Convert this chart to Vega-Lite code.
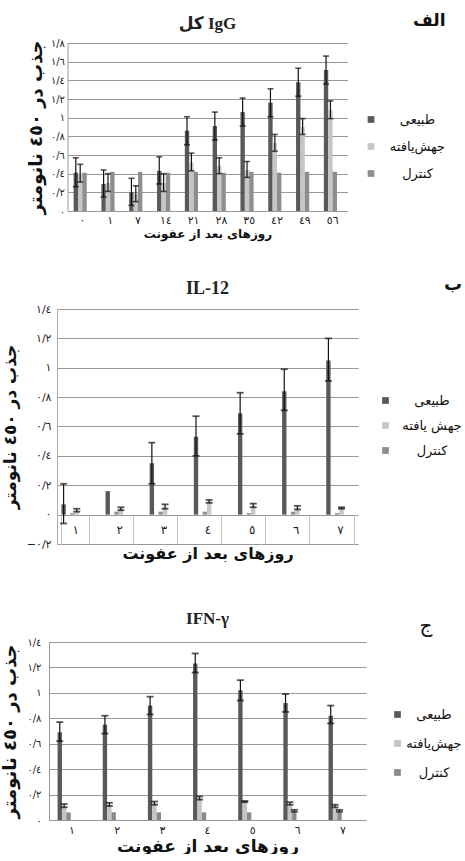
{
  "$schema": "https://vega.github.io/schema/vega-lite/v6.json",
  "background": "white",
  "padding": {"left": 0, "top": 13, "right": 0, "bottom": 0},
  "datasets": {
    "igg": [
      {"day": 0, "group": "طبیعی", "val": 0.41, "lo": 0.26, "hi": 0.57},
      {"day": 0, "group": "جهش\u200cیافته", "val": 0.40, "lo": 0.31, "hi": 0.50},
      {"day": 0, "group": "کنترل", "val": 0.41},
      {"day": 1, "group": "طبیعی", "val": 0.29, "lo": 0.15, "hi": 0.44},
      {"day": 1, "group": "جهش\u200cیافته", "val": 0.30, "lo": 0.21, "hi": 0.40},
      {"day": 1, "group": "کنترل", "val": 0.42},
      {"day": 7, "group": "طبیعی", "val": 0.20, "lo": 0.06, "hi": 0.35},
      {"day": 7, "group": "جهش\u200cیافته", "val": 0.18, "lo": 0.10, "hi": 0.27},
      {"day": 7, "group": "کنترل", "val": 0.42},
      {"day": 14, "group": "طبیعی", "val": 0.43, "lo": 0.29, "hi": 0.58},
      {"day": 14, "group": "جهش\u200cیافته", "val": 0.30, "lo": 0.21, "hi": 0.40},
      {"day": 14, "group": "کنترل", "val": 0.41},
      {"day": 21, "group": "طبیعی", "val": 0.86, "lo": 0.71, "hi": 1.01},
      {"day": 21, "group": "جهش\u200cیافته", "val": 0.52, "lo": 0.43, "hi": 0.62},
      {"day": 21, "group": "کنترل", "val": 0.42},
      {"day": 28, "group": "طبیعی", "val": 0.91, "lo": 0.76, "hi": 1.06},
      {"day": 28, "group": "جهش\u200cیافته", "val": 0.48, "lo": 0.40, "hi": 0.57},
      {"day": 28, "group": "کنترل", "val": 0.41},
      {"day": 35, "group": "طبیعی", "val": 1.06, "lo": 0.91, "hi": 1.21},
      {"day": 35, "group": "جهش\u200cیافته", "val": 0.44, "lo": 0.36, "hi": 0.53},
      {"day": 35, "group": "کنترل", "val": 0.42},
      {"day": 42, "group": "طبیعی", "val": 1.16, "lo": 1.01, "hi": 1.31},
      {"day": 42, "group": "جهش\u200cیافته", "val": 0.73, "lo": 0.64, "hi": 0.82},
      {"day": 42, "group": "کنترل", "val": 0.41},
      {"day": 49, "group": "طبیعی", "val": 1.38, "lo": 1.23, "hi": 1.53},
      {"day": 49, "group": "جهش\u200cیافته", "val": 0.90, "lo": 0.82, "hi": 0.99},
      {"day": 49, "group": "کنترل", "val": 0.42},
      {"day": 56, "group": "طبیعی", "val": 1.51, "lo": 1.36, "hi": 1.66},
      {"day": 56, "group": "جهش\u200cیافته", "val": 1.08, "lo": 0.99, "hi": 1.18},
      {"day": 56, "group": "کنترل", "val": 0.42}
    ],
    "il12": [
      {"day": 1, "group": "طبیعی", "val": 0.07, "lo": -0.06, "hi": 0.21},
      {"day": 1, "group": "جهش یافته", "val": 0.025, "lo": 0.02, "hi": 0.04},
      {"day": 1, "group": "کنترل", "val": 0.01},
      {"day": 2, "group": "طبیعی", "val": 0.16},
      {"day": 2, "group": "جهش یافته", "val": 0.04, "lo": 0.03, "hi": 0.05},
      {"day": 2, "group": "کنترل", "val": 0.02},
      {"day": 3, "group": "طبیعی", "val": 0.35, "lo": 0.21, "hi": 0.49},
      {"day": 3, "group": "جهش یافته", "val": 0.05, "lo": 0.04, "hi": 0.07},
      {"day": 3, "group": "کنترل", "val": 0.02},
      {"day": 4, "group": "طبیعی", "val": 0.53, "lo": 0.40, "hi": 0.67},
      {"day": 4, "group": "جهش یافته", "val": 0.09, "lo": 0.08, "hi": 0.10},
      {"day": 4, "group": "کنترل", "val": 0.02},
      {"day": 5, "group": "طبیعی", "val": 0.69, "lo": 0.55, "hi": 0.83},
      {"day": 5, "group": "جهش یافته", "val": 0.06, "lo": 0.05, "hi": 0.075},
      {"day": 5, "group": "کنترل", "val": 0.01},
      {"day": 6, "group": "طبیعی", "val": 0.84, "lo": 0.71, "hi": 0.99},
      {"day": 6, "group": "جهش یافته", "val": 0.045, "lo": 0.035, "hi": 0.06},
      {"day": 6, "group": "کنترل", "val": 0.02},
      {"day": 7, "group": "طبیعی", "val": 1.05, "lo": 0.91, "hi": 1.2},
      {"day": 7, "group": "جهش یافته", "val": 0.045, "lo": 0.04, "hi": 0.05},
      {"day": 7, "group": "کنترل", "val": 0.01}
    ],
    "ifn": [
      {"day": 1, "group": "طبیعی", "val": 0.69, "lo": 0.62, "hi": 0.77},
      {"day": 1, "group": "جهش\u200cیافته", "val": 0.11, "lo": 0.10, "hi": 0.125},
      {"day": 1, "group": "کنترل", "val": 0.06},
      {"day": 2, "group": "طبیعی", "val": 0.75, "lo": 0.68, "hi": 0.82},
      {"day": 2, "group": "جهش\u200cیافته", "val": 0.12, "lo": 0.11, "hi": 0.135},
      {"day": 2, "group": "کنترل", "val": 0.06},
      {"day": 3, "group": "طبیعی", "val": 0.90, "lo": 0.83, "hi": 0.97},
      {"day": 3, "group": "جهش\u200cیافته", "val": 0.13, "lo": 0.12, "hi": 0.145},
      {"day": 3, "group": "کنترل", "val": 0.06},
      {"day": 4, "group": "طبیعی", "val": 1.23, "lo": 1.16, "hi": 1.31},
      {"day": 4, "group": "جهش\u200cیافته", "val": 0.17, "lo": 0.16, "hi": 0.185},
      {"day": 4, "group": "کنترل", "val": 0.06},
      {"day": 5, "group": "طبیعی", "val": 1.02, "lo": 0.94, "hi": 1.10},
      {"day": 5, "group": "جهش\u200cیافته", "val": 0.145, "lo": 0.14, "hi": 0.15},
      {"day": 5, "group": "کنترل", "val": 0.06},
      {"day": 6, "group": "طبیعی", "val": 0.92, "lo": 0.85, "hi": 0.99},
      {"day": 6, "group": "جهش\u200cیافته", "val": 0.125, "lo": 0.12, "hi": 0.14},
      {"day": 6, "group": "کنترل", "val": 0.065, "lo": 0.065, "hi": 0.08},
      {"day": 7, "group": "طبیعی", "val": 0.82, "lo": 0.76, "hi": 0.90},
      {"day": 7, "group": "جهش\u200cیافته", "val": 0.10, "lo": 0.10, "hi": 0.12},
      {"day": 7, "group": "کنترل", "val": 0.065, "lo": 0.065, "hi": 0.08}
    ]
  },
  "config": {
    "view": {"stroke": null},
    "font": "DejaVu Sans",
    "axis": {"gridColor": "#999999", "gridWidth": 1.1, "domainColor": "#999999", "labelColor": "#222", "titleColor": "#111"},
    "legend": {"symbolStrokeWidth": 0}
  },
  "spacing": 98,
  "center": true,
  "bounds": "flush",
  "resolve": {"scale": {"color": "independent", "y": "independent", "x": "independent"}, "legend": {"color": "independent"}},
  "vconcat": [
    {
      "width": 280,
      "height": 168,
      "title": {"text": "کل IgG", "font": "Liberation Serif, DejaVu Sans", "fontSize": 17, "fontWeight": "bold", "anchor": "middle", "frame": "group", "offset": -20, "color": "#222"},
      "data": {"name": "igg"},
      "encoding": {
        "x": {"field": "day", "type": "ordinal", "scale": {"paddingInner": 0.37, "paddingOuter": 0.22},
          "axis": {"title": "روزهای بعد از عفونت", "labelAngle": 0, "labelExpr": "replace(replace(replace(replace(replace(replace(replace(replace(replace(replace(datum.label,regexp('0','g'),'٠'),regexp('1','g'),'١'),regexp('2','g'),'٢'),regexp('3','g'),'٣'),regexp('4','g'),'٤'),regexp('5','g'),'٥'),regexp('6','g'),'٦'),regexp('7','g'),'٧'),regexp('8','g'),'٨'),regexp('9','g'),'٩')", "labelFontSize": 11, "labelPadding": 3, "ticks": false, "grid": false, "titleFontSize": 12, "titleFontWeight": "bold", "titlePadding": 3}},
        "xOffset": {"field": "group", "type": "nominal", "scale": {"domain": ["طبیعی", "جهش\u200cیافته", "کنترل"]}}
      },
      "layer": [
        {
          "mark": {"type": "bar"},
          "encoding": {
            "y": {"field": "val", "type": "quantitative", "scale": {"domain": [0, 1.8], "nice": false},
              "axis": {"title": "جذب در ٤٥٠ نانومتر", "values": [0, 0.2, 0.4, 0.6, 0.8, 1, 1.2, 1.4, 1.6, 1.8], "labelOverlap": false, "labelExpr": "replace(replace(replace(replace(replace(replace(replace(replace(replace(replace(replace(format(datum.value,'.1~f'),'.','/'),regexp('0','g'),'٠'),regexp('1','g'),'١'),regexp('2','g'),'٢'),regexp('3','g'),'٣'),regexp('4','g'),'٤'),regexp('5','g'),'٥'),regexp('6','g'),'٦'),regexp('7','g'),'٧'),regexp('8','g'),'٨'),regexp('9','g'),'٩')", "labelFontSize": 10, "labelPadding": 3, "ticks": false, "titleFontSize": 18, "titleFontWeight": "bold", "titlePadding": 5}},
            "color": {"field": "group", "type": "nominal", "scale": {"domain": ["طبیعی", "جهش\u200cیافته", "کنترل"], "range": ["#595959", "#c6c6c6", "#8e8e8e"]},
              "legend": {"orient": "none", "legendX": 297, "legendY": -30, "title": "الف", "titleFontSize": 17, "titleFontWeight": "bold", "titleAnchor": "end", "titlePadding": 83, "labelFontSize": 13, "labelAlign": "center", "labelOffset": 40, "symbolType": "square", "symbolSize": 45, "rowPadding": 13, "labelColor": "#111", "titleColor": "#111"}}
          }
        },
        {
          "mark": {"type": "rule", "color": "#111", "strokeWidth": 1.2},
          "encoding": {"y": {"field": "lo", "type": "quantitative", "axis": {"title": "جذب در ٤٥٠ نانومتر", "values": [0, 0.2, 0.4, 0.6, 0.8, 1, 1.2, 1.4, 1.6, 1.8], "labelOverlap": false, "labelExpr": "replace(replace(replace(replace(replace(replace(replace(replace(replace(replace(replace(format(datum.value,'.1~f'),'.','/'),regexp('0','g'),'٠'),regexp('1','g'),'١'),regexp('2','g'),'٢'),regexp('3','g'),'٣'),regexp('4','g'),'٤'),regexp('5','g'),'٥'),regexp('6','g'),'٦'),regexp('7','g'),'٧'),regexp('8','g'),'٨'),regexp('9','g'),'٩')", "labelFontSize": 10, "labelPadding": 3, "ticks": false, "titleFontSize": 18, "titleFontWeight": "bold", "titlePadding": 5}}, "y2": {"field": "hi"}}
        },
        {
          "mark": {"type": "tick", "color": "#111", "size": 6, "thickness": 1.6},
          "encoding": {"y": {"field": "lo", "type": "quantitative", "axis": {"title": "جذب در ٤٥٠ نانومتر", "values": [0, 0.2, 0.4, 0.6, 0.8, 1, 1.2, 1.4, 1.6, 1.8], "labelOverlap": false, "labelExpr": "replace(replace(replace(replace(replace(replace(replace(replace(replace(replace(replace(format(datum.value,'.1~f'),'.','/'),regexp('0','g'),'٠'),regexp('1','g'),'١'),regexp('2','g'),'٢'),regexp('3','g'),'٣'),regexp('4','g'),'٤'),regexp('5','g'),'٥'),regexp('6','g'),'٦'),regexp('7','g'),'٧'),regexp('8','g'),'٨'),regexp('9','g'),'٩')", "labelFontSize": 10, "labelPadding": 3, "ticks": false, "titleFontSize": 18, "titleFontWeight": "bold", "titlePadding": 5}}}
        },
        {
          "mark": {"type": "tick", "color": "#111", "size": 6, "thickness": 1.6},
          "encoding": {"y": {"field": "hi", "type": "quantitative", "axis": {"title": "جذب در ٤٥٠ نانومتر", "values": [0, 0.2, 0.4, 0.6, 0.8, 1, 1.2, 1.4, 1.6, 1.8], "labelOverlap": false, "labelExpr": "replace(replace(replace(replace(replace(replace(replace(replace(replace(replace(replace(format(datum.value,'.1~f'),'.','/'),regexp('0','g'),'٠'),regexp('1','g'),'١'),regexp('2','g'),'٢'),regexp('3','g'),'٣'),regexp('4','g'),'٤'),regexp('5','g'),'٥'),regexp('6','g'),'٦'),regexp('7','g'),'٧'),regexp('8','g'),'٨'),regexp('9','g'),'٩')", "labelFontSize": 10, "labelPadding": 3, "ticks": false, "titleFontSize": 18, "titleFontWeight": "bold", "titlePadding": 5}}}
        }
      ]
    },
    {
      "width": 301,
      "height": 235,
      "title": {"text": "IL-12", "font": "Liberation Serif", "fontSize": 18, "fontWeight": "bold", "anchor": "middle", "frame": "group", "offset": -22, "color": "#222"},
      "data": {"name": "il12"},
      "encoding": {
        "x": {"field": "day", "type": "ordinal", "scale": {"paddingInner": 0.38, "paddingOuter": 0.1},
          "axis": {"title": "روزهای بعد از عفونت", "labelAngle": 0, "labelExpr": "replace(replace(replace(replace(replace(replace(replace(replace(replace(replace(datum.label,regexp('0','g'),'٠'),regexp('1','g'),'١'),regexp('2','g'),'٢'),regexp('3','g'),'٣'),regexp('4','g'),'٤'),regexp('5','g'),'٥'),regexp('6','g'),'٦'),regexp('7','g'),'٧'),regexp('8','g'),'٨'),regexp('9','g'),'٩')", "offset": -29, "domain": false, "ticks": true, "tickBand": "extent", "tickSize": 29, "tickColor": "#c4c4c4", "labelFontSize": 12, "labelPadding": -20, "grid": false, "titleFontSize": 16, "titleFontWeight": "bold", "titlePadding": 1}},
        "xOffset": {"field": "group", "type": "nominal", "scale": {"domain": ["طبیعی", "جهش یافته", "کنترل"]}}
      },
      "layer": [
        {
          "mark": {"type": "bar"},
          "encoding": {
            "y": {"field": "val", "type": "quantitative", "scale": {"domain": [-0.2, 1.4], "nice": false},
              "axis": {"title": "جذب در ٤٥٠ نانومتر", "values": [-0.2, 0, 0.2, 0.4, 0.6, 0.8, 1, 1.2, 1.4], "labelOverlap": false, "labelExpr": "replace(replace(replace(replace(replace(replace(replace(replace(replace(replace(replace(format(datum.value,'.1~f'),'.','/'),regexp('0','g'),'٠'),regexp('1','g'),'١'),regexp('2','g'),'٢'),regexp('3','g'),'٣'),regexp('4','g'),'٤'),regexp('5','g'),'٥'),regexp('6','g'),'٦'),regexp('7','g'),'٧'),regexp('8','g'),'٨'),regexp('9','g'),'٩')", "labelFontSize": 11, "labelPadding": 6, "ticks": false, "domainColor": "#b0b0b0", "titleFontSize": 17, "titleFontWeight": "bold", "titleX": -38}},
            "color": {"field": "group", "type": "nominal", "scale": {"domain": ["طبیعی", "جهش یافته", "کنترل"], "range": ["#595959", "#c6c6c6", "#8e8e8e"]},
              "legend": {"orient": "none", "legendX": 322, "legendY": -33, "title": "ب", "titleFontSize": 18, "titleFontWeight": "bold", "titleAnchor": "end", "titlePadding": 100, "labelFontSize": 13, "labelAlign": "center", "labelOffset": 40, "symbolType": "square", "symbolSize": 45, "rowPadding": 11, "labelColor": "#111", "titleColor": "#111"}}
          }
        },
        {
          "mark": {"type": "rule", "color": "#111", "strokeWidth": 1.2},
          "encoding": {"y": {"field": "lo", "type": "quantitative", "axis": {"title": "جذب در ٤٥٠ نانومتر", "values": [-0.2, 0, 0.2, 0.4, 0.6, 0.8, 1, 1.2, 1.4], "labelOverlap": false, "labelExpr": "replace(replace(replace(replace(replace(replace(replace(replace(replace(replace(replace(format(datum.value,'.1~f'),'.','/'),regexp('0','g'),'٠'),regexp('1','g'),'١'),regexp('2','g'),'٢'),regexp('3','g'),'٣'),regexp('4','g'),'٤'),regexp('5','g'),'٥'),regexp('6','g'),'٦'),regexp('7','g'),'٧'),regexp('8','g'),'٨'),regexp('9','g'),'٩')", "labelFontSize": 11, "labelPadding": 6, "ticks": false, "domainColor": "#b0b0b0", "titleFontSize": 17, "titleFontWeight": "bold", "titleX": -38}}, "y2": {"field": "hi"}}
        },
        {
          "mark": {"type": "tick", "color": "#111", "size": 7, "thickness": 1.8},
          "encoding": {"y": {"field": "lo", "type": "quantitative", "axis": {"title": "جذب در ٤٥٠ نانومتر", "values": [-0.2, 0, 0.2, 0.4, 0.6, 0.8, 1, 1.2, 1.4], "labelOverlap": false, "labelExpr": "replace(replace(replace(replace(replace(replace(replace(replace(replace(replace(replace(format(datum.value,'.1~f'),'.','/'),regexp('0','g'),'٠'),regexp('1','g'),'١'),regexp('2','g'),'٢'),regexp('3','g'),'٣'),regexp('4','g'),'٤'),regexp('5','g'),'٥'),regexp('6','g'),'٦'),regexp('7','g'),'٧'),regexp('8','g'),'٨'),regexp('9','g'),'٩')", "labelFontSize": 11, "labelPadding": 6, "ticks": false, "domainColor": "#b0b0b0", "titleFontSize": 17, "titleFontWeight": "bold", "titleX": -38}}}
        },
        {
          "mark": {"type": "tick", "color": "#111", "size": 7, "thickness": 1.8},
          "encoding": {"y": {"field": "hi", "type": "quantitative", "axis": {"title": "جذب در ٤٥٠ نانومتر", "values": [-0.2, 0, 0.2, 0.4, 0.6, 0.8, 1, 1.2, 1.4], "labelOverlap": false, "labelExpr": "replace(replace(replace(replace(replace(replace(replace(replace(replace(replace(replace(format(datum.value,'.1~f'),'.','/'),regexp('0','g'),'٠'),regexp('1','g'),'١'),regexp('2','g'),'٢'),regexp('3','g'),'٣'),regexp('4','g'),'٤'),regexp('5','g'),'٥'),regexp('6','g'),'٦'),regexp('7','g'),'٧'),regexp('8','g'),'٨'),regexp('9','g'),'٩')", "labelFontSize": 11, "labelPadding": 6, "ticks": false, "domainColor": "#b0b0b0", "titleFontSize": 17, "titleFontWeight": "bold", "titleX": -38}}}
        }
      ]
    },
    {
      "width": 317,
      "height": 178,
      "title": {"text": "IFN-γ", "font": "Liberation Serif", "fontSize": 17, "fontWeight": "bold", "anchor": "middle", "frame": "group", "offset": -12, "color": "#222"},
      "data": {"name": "ifn"},
      "encoding": {
        "x": {"field": "day", "type": "ordinal", "scale": {"paddingInner": 0.36, "paddingOuter": 0.19},
          "axis": {"title": "روزهای بعد از عفونت", "labelAngle": 0, "labelExpr": "replace(replace(replace(replace(replace(replace(replace(replace(replace(replace(datum.label,regexp('0','g'),'٠'),regexp('1','g'),'١'),regexp('2','g'),'٢'),regexp('3','g'),'٣'),regexp('4','g'),'٤'),regexp('5','g'),'٥'),regexp('6','g'),'٦'),regexp('7','g'),'٧'),regexp('8','g'),'٨'),regexp('9','g'),'٩')", "labelFontSize": 11, "labelPadding": 4, "ticks": false, "grid": false, "titleFontSize": 17, "titleFontWeight": "bold", "titlePadding": 3}},
        "xOffset": {"field": "group", "type": "nominal", "scale": {"domain": ["طبیعی", "جهش\u200cیافته", "کنترل"]}}
      },
      "layer": [
        {
          "mark": {"type": "bar"},
          "encoding": {
            "y": {"field": "val", "type": "quantitative", "scale": {"domain": [0, 1.4], "nice": false},
              "axis": {"title": "جذب در ٤٥٠ نانومتر", "values": [0, 0.2, 0.4, 0.6, 0.8, 1, 1.2, 1.4], "labelOverlap": false, "labelExpr": "replace(replace(replace(replace(replace(replace(replace(replace(replace(replace(replace(format(datum.value,'.1~f'),'.','/'),regexp('0','g'),'٠'),regexp('1','g'),'١'),regexp('2','g'),'٢'),regexp('3','g'),'٣'),regexp('4','g'),'٤'),regexp('5','g'),'٥'),regexp('6','g'),'٦'),regexp('7','g'),'٧'),regexp('8','g'),'٨'),regexp('9','g'),'٩')", "labelFontSize": 10, "labelPadding": 8, "ticks": false, "titleFontSize": 18, "titleFontWeight": "bold", "titleX": -29.5}},
            "color": {"field": "group", "type": "nominal", "scale": {"domain": ["طبیعی", "جهش\u200cیافته", "کنترل"], "range": ["#595959", "#c4c4c4", "#8a8a8a"]},
              "legend": {"orient": "none", "legendX": 342, "legendY": -26, "title": "ج", "titleFontSize": 20, "titleFontWeight": "normal", "titleAnchor": "middle", "titlePadding": 72, "labelFontSize": 13, "labelAlign": "center", "labelOffset": 30, "symbolType": "square", "symbolSize": 45, "rowPadding": 15, "labelColor": "#111", "titleColor": "#111"}}
          }
        },
        {
          "mark": {"type": "rule", "color": "#111", "strokeWidth": 1.2},
          "encoding": {"y": {"field": "lo", "type": "quantitative", "axis": {"title": "جذب در ٤٥٠ نانومتر", "values": [0, 0.2, 0.4, 0.6, 0.8, 1, 1.2, 1.4], "labelOverlap": false, "labelExpr": "replace(replace(replace(replace(replace(replace(replace(replace(replace(replace(replace(format(datum.value,'.1~f'),'.','/'),regexp('0','g'),'٠'),regexp('1','g'),'١'),regexp('2','g'),'٢'),regexp('3','g'),'٣'),regexp('4','g'),'٤'),regexp('5','g'),'٥'),regexp('6','g'),'٦'),regexp('7','g'),'٧'),regexp('8','g'),'٨'),regexp('9','g'),'٩')", "labelFontSize": 10, "labelPadding": 8, "ticks": false, "titleFontSize": 18, "titleFontWeight": "bold", "titleX": -29.5}}, "y2": {"field": "hi"}}
        },
        {
          "mark": {"type": "tick", "color": "#111", "size": 7, "thickness": 1.8},
          "encoding": {"y": {"field": "lo", "type": "quantitative", "axis": {"title": "جذب در ٤٥٠ نانومتر", "values": [0, 0.2, 0.4, 0.6, 0.8, 1, 1.2, 1.4], "labelOverlap": false, "labelExpr": "replace(replace(replace(replace(replace(replace(replace(replace(replace(replace(replace(format(datum.value,'.1~f'),'.','/'),regexp('0','g'),'٠'),regexp('1','g'),'١'),regexp('2','g'),'٢'),regexp('3','g'),'٣'),regexp('4','g'),'٤'),regexp('5','g'),'٥'),regexp('6','g'),'٦'),regexp('7','g'),'٧'),regexp('8','g'),'٨'),regexp('9','g'),'٩')", "labelFontSize": 10, "labelPadding": 8, "ticks": false, "titleFontSize": 18, "titleFontWeight": "bold", "titleX": -29.5}}}
        },
        {
          "mark": {"type": "tick", "color": "#111", "size": 7, "thickness": 1.8},
          "encoding": {"y": {"field": "hi", "type": "quantitative", "axis": {"title": "جذب در ٤٥٠ نانومتر", "values": [0, 0.2, 0.4, 0.6, 0.8, 1, 1.2, 1.4], "labelOverlap": false, "labelExpr": "replace(replace(replace(replace(replace(replace(replace(replace(replace(replace(replace(format(datum.value,'.1~f'),'.','/'),regexp('0','g'),'٠'),regexp('1','g'),'١'),regexp('2','g'),'٢'),regexp('3','g'),'٣'),regexp('4','g'),'٤'),regexp('5','g'),'٥'),regexp('6','g'),'٦'),regexp('7','g'),'٧'),regexp('8','g'),'٨'),regexp('9','g'),'٩')", "labelFontSize": 10, "labelPadding": 8, "ticks": false, "titleFontSize": 18, "titleFontWeight": "bold", "titleX": -29.5}}}
        }
      ]
    }
  ]
}
